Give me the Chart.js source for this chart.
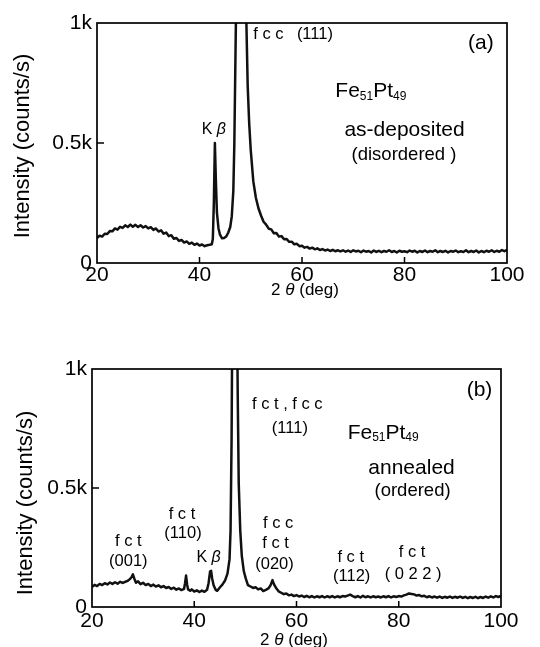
<!DOCTYPE html>
<html>
<head>
<meta charset="utf-8">
<script src="https://cdn.jsdelivr.net/npm/chart.js@4"></script>
<style>
  html, body { margin: 0; padding: 0; background: #fff; }
  #wrap { position: relative; width: 540px; height: 647px; overflow: hidden; background: #fff; }
  canvas { position: absolute; left: 0; }
  #ca { top: 0; }
  #cb { top: 330px; }
</style>
</head>
<body>
<div id="wrap">
  <canvas id="ca" width="540" height="300"></canvas>
  <canvas id="cb" width="540" height="317"></canvas>
</div>
<script>
// ---------- DATA ----------
const xTickValues = [20, 40, 60, 80, 100];
const yTickValues = [0, 500, 1000];
const yTickLabels = ["0", "0.5k", "1k"];

// Panel (a): as-deposited (disordered)
const thetaA = [
  20,20.5,21,21.5,22,22.5,23,23.5,24,24.5,25,25.5,26,26.5,27,27.5,28,28.5,29,29.5,
  30,30.5,31,31.5,32,32.5,33,33.5,34,34.5,35,35.5,36,36.5,37,37.5,38,38.5,39,39.5,
  40,40.5,41,41.5,42,
  42.4,42.6,42.8,43.0,43.2,43.4,43.7,44.0,44.4,44.8,45.2,45.6,46.0,46.3,46.6,46.8,
  47.1,47.4,48.1,48.8,49.15,49.4,49.7,50.0,50.5,51.0,
  51.5,52,52.5,53,53.5,54,54.5,55,55.5,56,56.5,57,57.5,58,58.5,59,59.5,60,60.5,61,
  61.5,62,62.5,63,63.5,64,64.5,65,65.5,66,66.5,67,67.5,68,
  68.5,69,69.5,70,70.5,71,71.5,72,72.5,73,73.5,74,74.5,75,75.5,76,76.5,77,77.5,78,
  78.5,79,79.5,80,80.5,81,81.5,82,82.5,83,83.5,84,84.5,85,85.5,86,86.5,87,87.5,88,
  88.5,89,89.5,90,90.5,91,91.5,92,92.5,93,93.5,94,94.5,95,95.5,96,96.5,97,97.5,98,
  98.5,99,99.5,100
];
const countsA = [
  104,114,110,122,121,133,132,144,139,151,146,157,150,160,151,159,150,157,148,154,
  144,149,138,144,131,136,122,127,112,116,101,104,92,96,85,90,80,85,76,81,
  73,77,70,74,76,
  78,100,250,500,340,210,145,118,103,104,110,126,150,195,300,500,
  1000,1500,2300,1500,1000,740,580,470,340,272,
  228,198,172,160,143,140,124,125,110,112,99,100,88,89,78,80,70,72,64,67,
  60,64,57,61,54,58,52,56,50,55,49,53,48,53,
  47,52,46,53,48,51,45,52,47,50,44,52,46,51,45,50,47,53,46,50,
  44,51,47,49,45,52,47,51,44,50,46,52,45,50,47,53,45,50,46,51,
  44,50,47,52,45,49,46,53,45,50,46,52,44,50,45,51,47,53,46,51,
  47,54,49,55
];

// Panel (b): annealed (ordered)
const thetaB = [
  20,20.5,21,21.5,22,22.5,23,23.5,24,24.5,25,25.5,26,26.5,27,27.4,27.7,28.0,28.3,28.6,
  29,29.5,30,30.5,31,31.5,32,32.5,33,33.5,34,34.5,35,35.5,36,36.5,37,37.5,38.0,38.2,
  38.4,38.6,38.8,39.2,39.5,40,40.5,41,41.5,42,42.5,42.8,43.1,43.3,43.5,43.8,44.2,44.5,45,45.5,
  46,46.5,46.9,47.1,47.3,47.5,47.9,48.3,48.5,48.7,49.0,49.3,49.7,50.1,50.5,51,51.5,52,52.5,53,
  53.5,54,54.5,54.9,55.3,55.6,56,56.5,57,57.5,58,58.5,59,59.5,60,
  60.5,61,61.5,62,62.5,63,63.5,64,64.5,65,65.5,66,66.5,67,67.5,68,68.5,69,69.5,70,
  70.5,71,71.5,72,72.5,73,73.5,74,74.5,75,75.5,76,76.5,77,77.5,78,78.5,79,79.5,80,
  80.5,81,81.5,82,82.5,83,83.5,84,84.5,85,85.5,86,86.5,87,87.5,88,88.5,89,89.5,90,
  90.5,91,91.5,92,92.5,93,93.5,94,94.5,95,95.5,96,96.5,97,97.5,98,98.5,99,99.5,100
];
const countsB = [
  84,93,88,97,92,100,95,103,97,104,98,106,101,106,110,117,124,137,118,102,
  108,96,102,92,97,88,94,86,91,83,88,80,84,76,81,73,78,71,76,100,
  132,95,74,68,74,65,70,63,69,64,72,100,150,152,120,90,72,68,82,94,
  110,140,200,320,700,1400,2600,1400,900,520,320,215,150,118,92,86,80,83,74,78,
  67,72,78,90,113,95,80,66,60,54,57,49,52,46,50,
  44,48,42,47,41,46,40,45,41,46,40,45,41,46,40,45,41,46,44,48,
  52,46,41,46,40,47,41,45,40,45,41,44,40,45,41,46,40,45,42,46,
  44,49,52,57,55,53,48,50,45,47,41,45,40,44,39,44,38,43,39,44,
  38,43,39,44,38,43,37,42,38,43,37,42,38,44,39,45,40,46,42,47
];

// ---------- TEXT (labels anchored in data coordinates, titles in pixels) ----------
const FONT = "'Liberation Sans', Arial, Helvetica, sans-serif";
const SM = 16.5, BIG = 21;
const labelsA = [
  { x: 50.5, y: 951, align: 'left', parts: [{ t: 'f c c', s: SM }] },
  { x: 59.0, y: 951, align: 'left', parts: [{ t: '(111)', s: SM }] },
  { x: 94.9, y: 917, align: 'center', parts: [{ t: '(a)', s: BIG }] },
  { x: 66.5, y: 715, align: 'left', parts: [{ t: 'Fe', s: BIG }, { t: '51', s: 12, dy: 5 }, { t: 'Pt', s: BIG }, { t: '49', s: 12, dy: 5 }] },
  { x: 80.0, y: 555, align: 'center', parts: [{ t: 'as-deposited', s: BIG }] },
  { x: 79.9, y: 451, align: 'center', parts: [{ t: '(disordered )', s: 18.5 }] },
  { x: 42.8, y: 555, align: 'center', parts: [{ t: 'K ', s: 16 }, { t: 'β', s: 16, i: true }] }
];
const labelsB = [
  { x: 95.8, y: 910, align: 'center', parts: [{ t: '(b)', s: BIG }] },
  { x: 58.2, y: 850, align: 'center', parts: [{ t: 'f c t , f c c', s: SM }] },
  { x: 58.7, y: 752, align: 'center', parts: [{ t: '(111)', s: SM }] },
  { x: 70.0, y: 731, align: 'left', parts: [{ t: 'Fe', s: BIG }, { t: '51', s: 12, dy: 5 }, { t: 'Pt', s: BIG }, { t: '49', s: 12, dy: 5 }] },
  { x: 82.5, y: 584, align: 'center', parts: [{ t: 'annealed', s: BIG }] },
  { x: 82.7, y: 486, align: 'center', parts: [{ t: '(ordered)', s: 18.5 }] },
  { x: 37.6, y: 388, align: 'center', parts: [{ t: 'f c t', s: SM }] },
  { x: 37.8, y: 311, align: 'center', parts: [{ t: '(110)', s: SM }] },
  { x: 27.1, y: 276, align: 'center', parts: [{ t: 'f c t', s: SM }] },
  { x: 27.1, y: 192, align: 'center', parts: [{ t: '(001)', s: SM }] },
  { x: 42.8, y: 206, align: 'center', parts: [{ t: 'K ', s: 16 }, { t: 'β', s: 16, i: true }] },
  { x: 56.4, y: 353, align: 'center', parts: [{ t: 'f c c', s: SM }] },
  { x: 55.9, y: 266, align: 'center', parts: [{ t: 'f c t', s: SM }] },
  { x: 55.7, y: 178, align: 'center', parts: [{ t: '(020)', s: SM }] },
  { x: 70.6, y: 210, align: 'center', parts: [{ t: 'f c t', s: SM }] },
  { x: 70.8, y: 129, align: 'center', parts: [{ t: '(112)', s: SM }] },
  { x: 82.6, y: 231, align: 'center', parts: [{ t: 'f c t', s: SM }] },
  { x: 82.8, y: 136, align: 'center', parts: [{ t: '( 0 2 2 )', s: SM }] }
];
const yTitleText = 'Intensity (counts/s)';
const xTitleParts = [{ t: '2 ', s: 17 }, { t: 'θ', s: 17, i: true }, { t: ' (deg)', s: 17 }];

// ---------- PLUGIN: frame, inward ticks, labels, titles ----------
function drawParts(ctx, parts, align, px, py) {
  const fontOf = p => (p.i ? 'italic ' : '') + p.s + 'px ' + FONT;
  let w = 0;
  parts.forEach(p => { ctx.font = fontOf(p); w += ctx.measureText(p.t).width; });
  let x = align === 'center' ? px - w / 2 : px;
  ctx.textBaseline = 'middle';
  ctx.textAlign = 'left';
  parts.forEach(p => {
    ctx.font = fontOf(p);
    ctx.fillText(p.t, x, py + (p.dy || 0));
    x += ctx.measureText(p.t).width;
  });
}
const decor = {
  id: 'decor',
  afterDatasetsDraw(chart, args, opts) {
    const { ctx, chartArea: a, scales: { x, y } } = chart;
    ctx.save();
    ctx.strokeStyle = '#000';
    ctx.lineWidth = 1.7;
    ctx.strokeRect(a.left, a.top, a.right - a.left, a.bottom - a.top);
    ctx.lineWidth = 1.5;
    ctx.beginPath();
    [40, 60, 80].forEach(v => {
      const px = x.getPixelForValue(v);
      ctx.moveTo(px, a.bottom); ctx.lineTo(px, a.bottom - 6);
    });
    const py = y.getPixelForValue(500);
    ctx.moveTo(a.left, py); ctx.lineTo(a.left + 7, py);
    ctx.stroke();
    ctx.fillStyle = '#000';
    (opts.labels || []).forEach(l => drawParts(ctx, l.parts, l.align, x.getPixelForValue(l.x), y.getPixelForValue(l.y)));
    // axis titles
    drawParts(ctx, xTitleParts, 'center', opts.xt[0], opts.xt[1]);
    ctx.save();
    ctx.translate(opts.yt[0], opts.yt[1]);
    ctx.rotate(-Math.PI / 2);
    drawParts(ctx, [{ t: yTitleText, s: 22 }], 'center', 0, 0);
    ctx.restore();
    ctx.restore();
  }
};

function makeChart(id, thetas, counts, labels, geo) {
  const pts = thetas.map((t, i) => ({ x: t, y: counts[i] }));
  return new Chart(document.getElementById(id), {
    type: 'line',
    data: { datasets: [{ data: pts, borderColor: '#111', borderWidth: 2.5, pointRadius: 0, tension: 0, fill: false, borderJoinStyle: 'round' }] },
    options: {
      responsive: false,
      animation: false,
      devicePixelRatio: 1,
      layout: { padding: { top: geo.top, right: geo.right, left: 0, bottom: 0 } },
      plugins: { legend: { display: false }, tooltip: { enabled: false }, decor: { labels, xt: geo.xt, yt: geo.yt } },
      scales: {
        x: {
          type: 'linear', min: 20, max: 100,
          afterBuildTicks: s => { s.ticks = xTickValues.map(v => ({ value: v })); },
          ticks: { color: '#000', font: { family: FONT, size: 21 }, padding: geo.xpad, maxRotation: 0, autoSkip: false },
          grid: { display: false, drawTicks: false },
          border: { display: false },
          title: { display: false, text: '2θ (deg)' },
          afterFit: s => { s.height = geo.xh; }
        },
        y: {
          min: 0, max: 1000,
          afterBuildTicks: s => { s.ticks = yTickValues.map(v => ({ value: v })); },
          ticks: { color: '#000', font: { family: FONT, size: 21 }, padding: geo.ypad, callback: (v, i) => yTickLabels[i] },
          grid: { display: false, drawTicks: false },
          border: { display: false },
          title: { display: false, text: yTitleText },
          afterFit: s => { s.width = geo.yw; }
        }
      }
    },
    plugins: [decor]
  });
}

makeChart('ca', thetaA, countsA, labelsA, { top: 23, right: 33, yw: 97, xh: 37, xpad: 0, ypad: 5, xt: [305, 290], yt: [23, 146] });
makeChart('cb', thetaB, countsB, labelsB, { top: 39, right: 39, yw: 92, xh: 40, xpad: 2, ypad: 5, xt: [294, 310], yt: [26, 173] });
</script>
</body>
</html>
